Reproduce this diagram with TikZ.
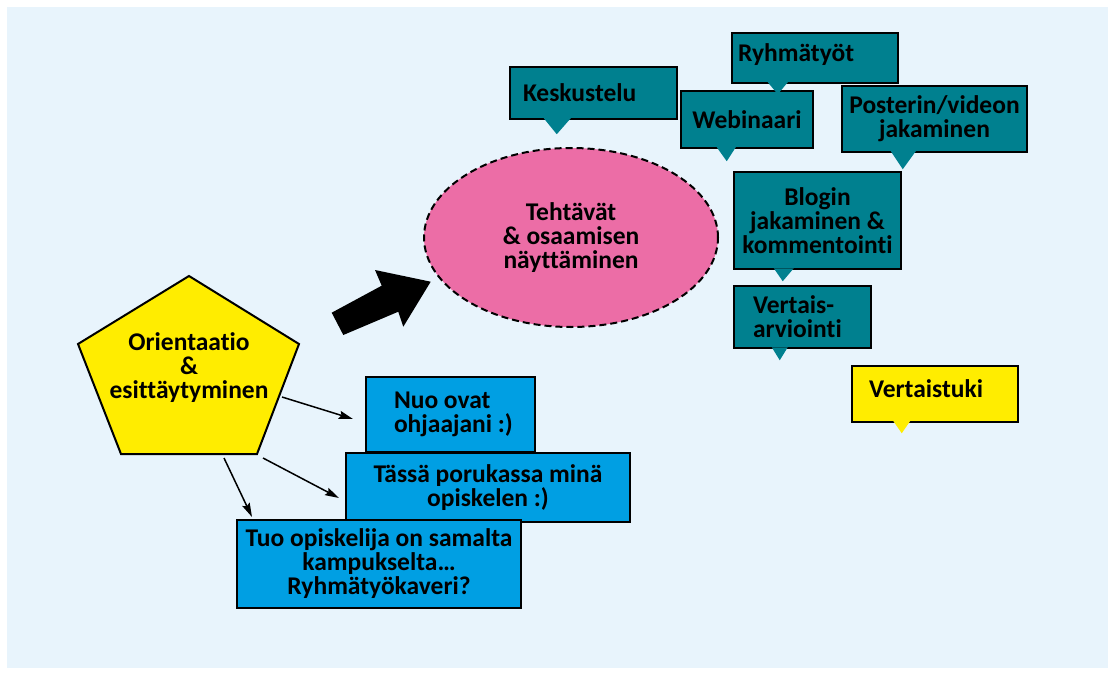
\documentclass[tikz,border=0pt]{standalone}
\usepackage{fontspec}
\setmainfont[Ligatures=NoCommon]{Carlito}
\usetikzlibrary{shapes.geometric,arrows.meta,calc}
\definecolor{bgc}{HTML}{E8F4FC}
\definecolor{tealc}{HTML}{00808F}
\definecolor{bluec}{HTML}{009FE3}
\definecolor{pinkc}{HTML}{EC6DA6}
\definecolor{yelc}{HTML}{FFED00}
\begin{document}
\begin{tikzpicture}[x=1pt,y=-1pt,
  txt/.style={font=\bfseries\fontsize{25.5}{24}\selectfont},
  box/.style={txt, draw=black, line width=2.5pt, inner ysep=0pt},
  tealbox/.style={box, fill=tealc},
  bluebox/.style={box, fill=bluec},
  yelbox/.style={box, fill=yelc},
  arr/.style={line width=1.5pt, -{Stealth[length=14pt,width=8pt,inset=2pt]}}
]
\useasboundingbox (0,0) rectangle (1111,674);
\fill[bgc] (7,7) rectangle (1108,668);

% central ellipse
\node[ellipse, draw=black, line width=2pt, dash pattern=on 7pt off 4pt, fill=pinkc,
  minimum width=294pt, minimum height=179pt, txt, align=center] (task) at (571,237.5)
  {Tehtävät\\\& osaamisen\\näyttäminen};

% big block arrow
\fill[black] (331.7,312.7) -- (381.7,285.7) -- (375,270) -- (430.7,281.7)
  -- (403.3,326.7) -- (398.3,311.7) -- (343.3,335) -- cycle;

% teal callouts
\node[tealbox, minimum width=167pt, minimum height=52pt, text width=141pt, inner xsep=13pt, align=flush left]
  (kesk) at (593.5,93) {Keskustelu};
\fill[tealc] ($(kesk.south west)+(35,-2)$) -- ($(kesk.south west)+(48,14)$) -- ($(kesk.south west)+(62,-2)$) -- cycle;

\node[tealbox, minimum width=132pt, minimum height=57pt, align=center]
  (webi) at (747,119.5) {Webinaari};
\fill[tealc] ($(webi.south west)+(37,-2)$) -- ($(webi.south west)+(47,12)$) -- ($(webi.south west)+(56,-2)$) -- cycle;

\node[tealbox, minimum width=166pt, minimum height=50pt, text width=154pt, inner xsep=6pt, align=flush left, text depth=10pt]
  (ryhma) at (815,58) {Ryhmätyöt};
\fill[tealc] ($(ryhma.south west)+(37,-2)$) -- ($(ryhma.south west)+(47,10)$) -- ($(ryhma.south west)+(57,-2)$) -- cycle;

\node[tealbox, minimum width=185pt, minimum height=66pt, align=center]
  (post) at (934.5,119) {Posterin/videon\\jakaminen};
\fill[tealc] ($(post.south west)+(50,-2)$) -- ($(post.south west)+(62,16)$) -- ($(post.south west)+(75,-2)$) -- cycle;

\node[tealbox, minimum width=167pt, minimum height=97pt, align=center]
  (blog) at (817.5,220.5) {Blogin\\jakaminen \&\\kommentointi};
\fill[tealc] ($(blog.south west)+(41,-2)$) -- ($(blog.south west)+(50,11)$) -- ($(blog.south west)+(61,-2)$) -- cycle;

\node[tealbox, minimum width=137pt, minimum height=62pt, text width=99pt, inner xsep=19pt, align=flush left]
  (vert) at (802.5,317) {Vertais-\\arviointi};
\fill[tealc] ($(vert.south west)+(39,-2)$) -- ($(vert.south west)+(47,11)$) -- ($(vert.south west)+(55,-2)$) -- cycle;

% yellow callout
\node[yelbox, minimum width=166pt, minimum height=56pt, text width=132pt, inner xsep=17pt, align=flush left, text depth=10pt]
  (tuki) at (935,394) {Vertaistuki};
\fill[yelc] ($(tuki.south west)+(42,-3)$) -- ($(tuki.south west)+(51,10)$) -- ($(tuki.south west)+(60,-3)$) -- cycle;

% pentagon
\coordinate (pt) at (189,276);
\coordinate (pr) at (299,344);
\coordinate (pbr) at (257,454);
\coordinate (pbl) at (121,454);
\coordinate (pl) at (78,344);
\draw[fill=yelc, line width=2pt, line join=miter] (pt) -- (pr) -- (pbr) -- (pbl) -- (pl) -- cycle;
\node[txt, align=center] (orient) at (189,368) {Orientaatio\\\&\\esittäytyminen};

% blue boxes
\node[bluebox, minimum width=169pt, minimum height=75pt, text width=145pt, inner xsep=12pt, align=flush left]
  (nuo) at (450.5,414.5) {\hspace*{16pt}Nuo ovat\\\hspace*{16pt}ohjaajani :)};
\node[bluebox, minimum width=284pt, minimum height=69pt, align=center]
  (tassa) at (488,487.5) {Tässä porukassa minä\\opiskelen :)};
\node[bluebox, minimum width=284pt, minimum height=88pt, align=center]
  (tuo) at (379,564) {Tuo opiskelija on samalta\\kampukselta…\\Ryhmätyökaveri?};

% connectors
\coordinate (a1s) at (282,397);
\coordinate (a1e) at (353,419);
\coordinate (a2s) at (263,458);
\coordinate (a2e) at (339,498);
\coordinate (a3s) at (224,458);
\coordinate (a3e) at (252,517);
\draw[arr] (a1s) -- (a1e);
\draw[arr] (a2s) -- (a2e);
\draw[arr] (a3s) -- (a3e);
\end{tikzpicture}
\end{document}
